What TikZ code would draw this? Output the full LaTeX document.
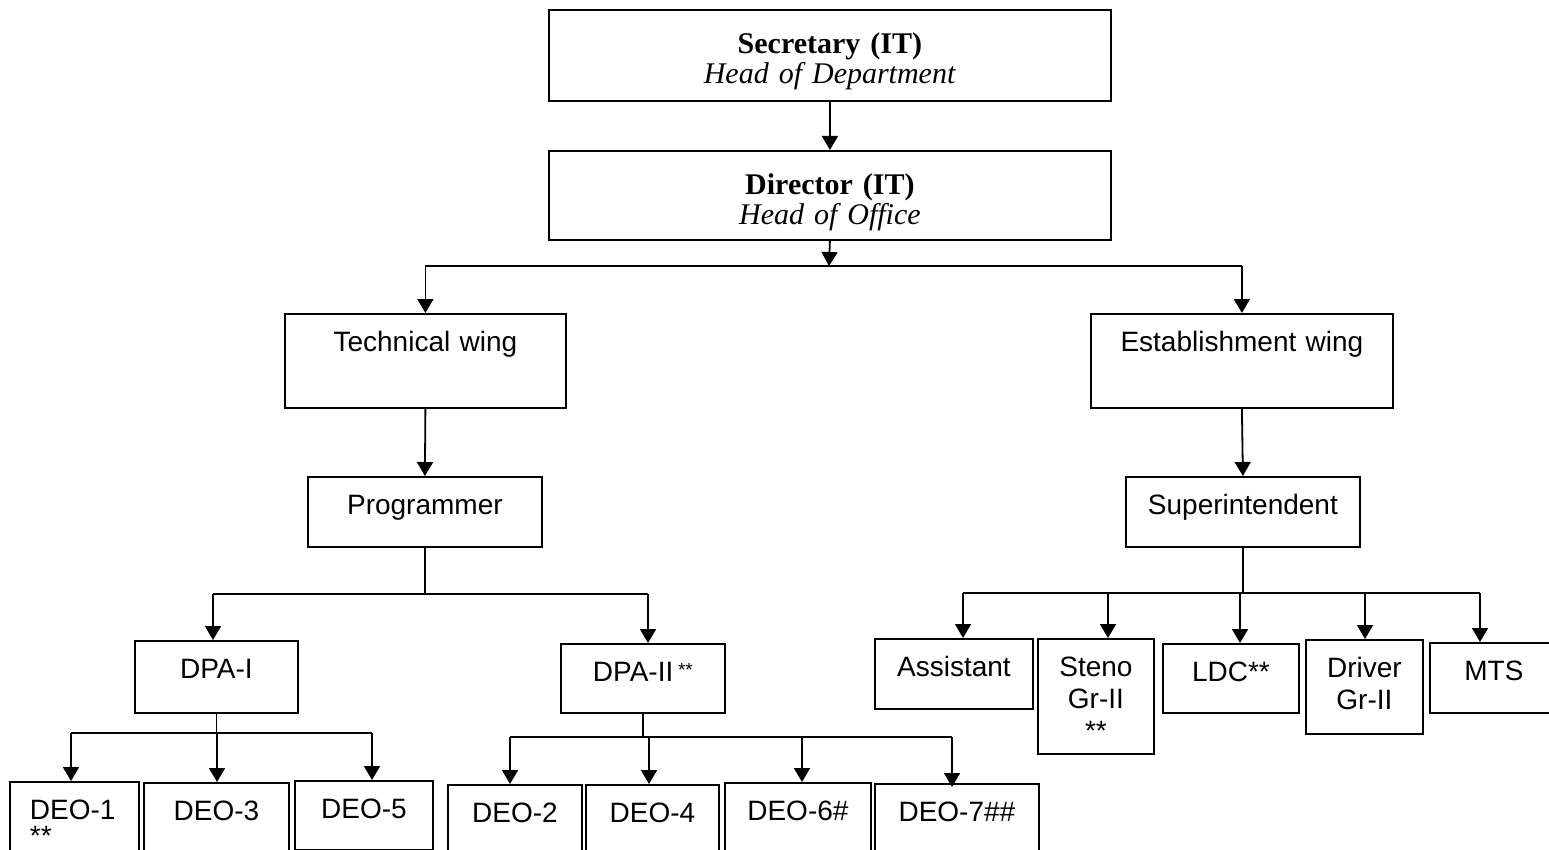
\documentclass[tikz,border=0pt]{standalone}
\usepackage{fontspec}
\setmainfont{Liberation Serif}
\newfontfamily\arialfont{Liberation Sans}
\usetikzlibrary{arrows.meta}

\tikzset{
  box/.style={draw, line width=1.8pt, inner sep=0pt, anchor=north west, align=center,
    font=\arialfont\fontsize{28}{32}\selectfont, text height=38pt},
  headbox/.style={box, font=\fontsize{30}{30}\selectfont, text height=44pt},
  link/.style={line width=1.8pt},
  arr/.style={link, -{Triangle[width=16pt,length=14pt]}}
}

\begin{document}
\begin{tikzpicture}[x=1pt, y=-1pt]
% Page size (pixels of the chart)
\useasboundingbox (0,0) rectangle (1549,850);
\clip (0,0) rectangle (1549,850);

% Head boxes
\node[headbox, text width=562pt, text depth=47pt] (sec) at (548,9) {\textbf{Secretary (IT)}\\\textit{Head of Department}};
\node[headbox, text width=562pt, text depth=45pt] (dir) at (548,150) {\textbf{Director (IT)}\\\textit{Head of Office}};

% Wings
\node[box, text width=281pt, text depth=56pt] (tech) at (284,313) {Technical wing};
\node[box, text width=302pt, text depth=56pt] (estab) at (1090,313) {Establishment wing};
\node[box, text width=234pt, text depth=32pt] (prog) at (307,476) {Programmer};
\node[box, text width=234pt, text depth=32pt] (supt) at (1125,476) {Superintendent};

% Technical wing staff
\node[box, text width=163pt, text depth=34pt] (dpa1) at (134,640) {DPA-I};
\node[box, text width=164pt, text depth=31pt] (dpa2) at (560,643) {DPA-II\,\raisebox{5pt}{\fontsize{19}{19}\selectfont**}};
\node[box, inner xsep=20pt, text width=89pt, align=left, text depth=80pt] (deo1) at (9,781) {DEO-1\\[-6pt]**};
\node[box, text width=145pt, text depth=80pt] (deo3) at (143,782) {DEO-3};
\node[box, text width=138pt, text depth=31pt] (deo5) at (294,780) {DEO-5};
\node[box, text width=134pt, text depth=80pt] (deo2) at (447,784) {DEO-2};
\node[box, text width=133pt, text depth=80pt] (deo4) at (585,784) {DEO-4};
\node[box, text width=146pt, text depth=80pt] (deo6) at (724,782) {DEO-6\#};
\node[box, text width=164pt, text depth=80pt] (deo7) at (874,783) {DEO-7\#\#};

% Establishment wing staff
\node[box, text width=158pt, text depth=32pt] (asst) at (874,638) {Assistant};
\node[box, text width=116pt, text depth=77pt] (steno) at (1037,638) {Steno\\Gr-II\\[0pt]**};
\node[box, text width=136pt, text depth=31pt] (ldc) at (1162,643) {LDC**};
\node[box, text width=117pt, text depth=56pt] (driver) at (1305,639) {Driver\\Gr-II};
\node[box, text width=128pt, text depth=32pt] (mts) at (1429,642) {MTS};

% Top connectors
\coordinate (topbus) at (829,266);
\draw[arr] (sec.south) -- (dir.north);
\draw[arr] (dir.south) -- (topbus);
\draw[link] (tech.north |- topbus) -- (estab.north |- topbus);
\draw[arr] (tech.north |- topbus) -- (tech.north);
\draw[arr] (estab.north |- topbus) -- (estab.north);
\draw[arr] (tech.south) -- (prog.north);
\draw[arr] (estab.south) -- (supt.north);

% Programmer to DPA
\coordinate (p1) at (213,594);
\coordinate (p2) at (648,594);
\draw[link] (prog.south) -- (prog.south |- p1);
\draw[link] (p1) -- (p2);
\draw[arr] (p1) -- (p1 |- dpa1.north);
\draw[arr] (p2) -- (p2 |- dpa2.north);

% DPA-I to DEO
\coordinate (a1) at (71,733);
\coordinate (a3) at (217,733);
\coordinate (a5) at (372,733);
\draw[link] (dpa1.south) -- (dpa1.south |- a1);
\draw[link] (a1) -- (a5);
\draw[arr] (a1) -- (a1 |- deo1.north);
\draw[arr] (a3) -- (a3 |- deo3.north);
\draw[arr] (a5) -- (a5 |- deo5.north);

% DPA-II to DEO
\coordinate (b2) at (510,737);
\coordinate (b4) at (649,737);
\coordinate (b6) at (802,737);
\coordinate (b7) at (952,737);
\draw[link] (dpa2.south) -- (dpa2.south |- b2);
\draw[link] (b2) -- (b7);
\draw[arr] (b2) -- (b2 |- deo2.north);
\draw[arr] (b4) -- (b4 |- deo4.north);
\draw[arr] (b6) -- (b6 |- deo6.north);
\draw[arr] (b7) -- ([yshift=-4pt]b7 |- deo7.north);

% Superintendent to staff
\coordinate (s1) at (963,593);
\coordinate (s2) at (1108,593);
\coordinate (s3) at (1240,593);
\coordinate (s4) at (1365,593);
\coordinate (s5) at (1480,593);
\draw[link] (supt.south) -- (supt.south |- s1);
\draw[link] (s1) -- (s5);
\draw[arr] (s1) -- (s1 |- asst.north);
\draw[arr] (s2) -- (s2 |- steno.north);
\draw[arr] (s3) -- (s3 |- ldc.north);
\draw[arr] (s4) -- (s4 |- driver.north);
\draw[arr] (s5) -- (s5 |- mts.north);
\end{tikzpicture}
\end{document}
